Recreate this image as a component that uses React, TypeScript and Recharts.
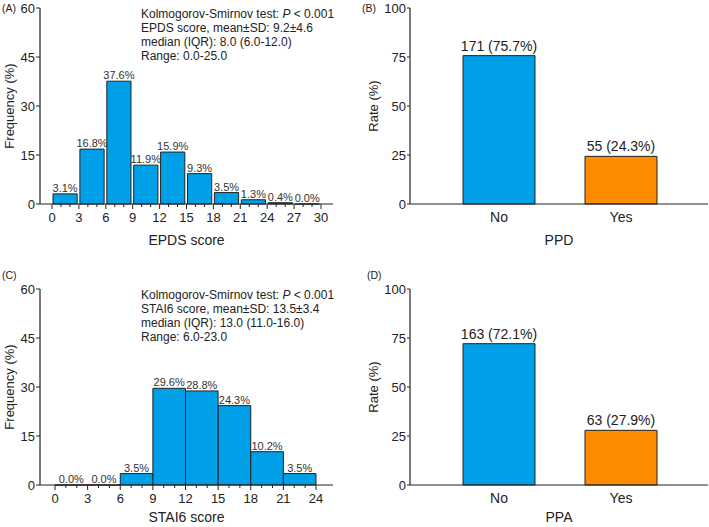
import React from 'react'
import { BarChart, Bar, XAxis, YAxis, LabelList, Cell, Label } from 'recharts'

const FONT = '"Liberation Sans", Arial, Helvetica, sans-serif'
const BLUE = '#00A0E9'
const ORANGE = '#FF8C00'
const INK = '#222222'

// (A) EPDS score histogram, bins of width 3 (bin centres)
const epdsBins = [1.5, 4.5, 7.5, 10.5, 13.5, 16.5, 19.5, 22.5, 25.5, 28.5]
const epdsFreq = [3.1, 16.8, 37.6, 11.9, 15.9, 9.3, 3.5, 1.3, 0.4, 0.0]
const epdsTicks = [0, 1, 2, 3, 4, 5, 6, 7, 8, 9, 10, 11, 12, 13, 14, 15, 16, 17, 18, 19, 20, 21, 22, 23, 24, 25, 26, 27, 28, 29, 30]
const epdsNotes = ['EPDS score, mean±SD: 9.2±4.6', 'median (IQR): 8.0 (6.0-12.0)', 'Range: 0.0-25.0']

// (C) STAI6 score histogram
const staiBins = [1.5, 4.5, 7.5, 10.5, 13.5, 16.5, 19.5, 22.5]
const staiFreq = [0.0, 0.0, 3.5, 29.6, 28.8, 24.3, 10.2, 3.5]
const staiTicks = [0, 1, 2, 3, 4, 5, 6, 7, 8, 9, 10, 11, 12, 13, 14, 15, 16, 17, 18, 19, 20, 21, 22, 23, 24]
const staiNotes = ['STAI6 score, mean±SD: 13.5±3.4', 'median (IQR): 13.0 (11.0-16.0)', 'Range: 6.0-23.0']

const freqTicks = [0, 15, 30, 45, 60]

// (B) / (D) rates
const groups = ['No', 'Yes']
const ppdCount = [171, 55]
const ppdRate = [75.7, 24.3]
const ppaCount = [163, 63]
const ppaRate = [72.1, 27.9]
const rateTicks = [0, 25, 50, 75, 100]
const groupColors = [BLUE, ORANGE]

function ScoreTick({ x, y, payload }: any) {
  const major = payload.value % 3 === 0
  return (
    <g>
      <line x1={x} x2={x} y1={y} y2={y + (major ? 5 : 3)} stroke={INK} strokeWidth={1} />
      {major && (
        <text x={x} y={y + 18} textAnchor="middle" fontSize={13} fill={INK} fontFamily={FONT}>
          {payload.value}
        </text>
      )}
    </g>
  )
}

// label above a bar, drawn on one line (no wrapping to the bar width)
const topLabel = (fmt: (v: any) => string, size: number, gap: number, color: string) => (p: any) => {
  const { x, y, width, value } = p
  return (
    <text x={Number(x) + Number(width) / 2} y={Number(y) - gap} textAnchor="middle" fontSize={size} fill={color} fontFamily={FONT}>
      {fmt(value)}
    </text>
  )
}

type HistProps = {
  top: number
  bins: number[]
  freq: number[]
  ticks: number[]
  max: number
  pad: { left: number; right: number }
  barSize: number
  xTitle: string
  height: number
  xHeight: number
  titleOffset: number
}

function Histogram({ top, bins, freq, ticks, max, pad, barSize, xTitle, height, xHeight, titleOffset }: HistProps) {
  const data = bins.map((b, i) => ({ x: b, v: freq[i] }))
  return (
    <div style={{ position: 'absolute', left: 0, top }}>
      <BarChart width={345} height={height} data={data} margin={{ top: 8, right: 12, bottom: height - 196 - 8 - xHeight, left: 0 }}>
        <XAxis
          type="number"
          dataKey="x"
          domain={[0, max]}
          ticks={ticks}
          interval={0}
          tick={<ScoreTick />}
          tickLine={false}
          tickSize={0}
          tickMargin={0}
          padding={pad}
          height={xHeight}
          axisLine={{ stroke: INK, strokeWidth: 1.2 }}
        >
          <Label value={xTitle} position="insideBottom" offset={titleOffset} fontSize={14} fill={INK} fontFamily={FONT} />
        </XAxis>
        <YAxis
          domain={[0, 60]}
          ticks={freqTicks}
          width={40}
          tickSize={4}
          tickMargin={1}
          tick={{ fontSize: 13, fill: INK, fontFamily: FONT }}
          tickLine={{ stroke: INK }}
          axisLine={{ stroke: INK, strokeWidth: 1.2 }}
        >
          <Label value="Frequency (%)" angle={-90} position="insideLeft" offset={9} fontSize={13} fill={INK} fontFamily={FONT} style={{ textAnchor: 'middle' }} />
        </YAxis>
        <Bar dataKey="v" fill={BLUE} stroke={INK} strokeWidth={1} barSize={barSize} minPointSize={0.01} isAnimationActive={false}>
          <LabelList dataKey="v" content={topLabel((v) => `${Number(v).toFixed(1)}%`, 11, 2, '#333')} />
        </Bar>
      </BarChart>
    </div>
  )
}

type RateProps = {
  top: number
  counts: number[]
  rates: number[]
  xTitle: string
  height: number
  xHeight: number
  titleOffset: number
}

function RateChart({ top, counts, rates, xTitle, height, xHeight, titleOffset }: RateProps) {
  const data = groups.map((g, i) => ({ g, v: rates[i], label: `${counts[i]} (${rates[i].toFixed(1)}%)` }))
  return (
    <div style={{ position: 'absolute', left: 360, top }}>
      <BarChart width={349} height={height} data={data} margin={{ top: 8, right: 1, bottom: height - 196 - 8 - xHeight, left: 0 }}>
        <XAxis
          dataKey="g"
          padding={{ left: 28, right: 26 }}
          tickLine={false}
          tickSize={0}
          tickMargin={8}
          tick={{ fontSize: 14, fill: INK, fontFamily: FONT }}
          height={xHeight}
          axisLine={{ stroke: INK, strokeWidth: 1.2 }}
        >
          <Label value={xTitle} position="insideBottom" offset={titleOffset} fontSize={14} fill={INK} fontFamily={FONT} />
        </XAxis>
        <YAxis
          domain={[0, 100]}
          ticks={rateTicks}
          width={50}
          tickSize={3}
          tickMargin={1}
          tick={{ fontSize: 13, fill: INK, fontFamily: FONT }}
          tickLine={{ stroke: INK }}
          axisLine={{ stroke: INK, strokeWidth: 1.2 }}
        >
          <Label value="Rate (%)" angle={-90} position="insideLeft" offset={13} fontSize={13} fill={INK} fontFamily={FONT} style={{ textAnchor: 'middle' }} />
        </YAxis>
        <Bar dataKey="v" stroke={INK} strokeWidth={1} barSize={72} isAnimationActive={false}>
          {data.map((_, i) => (
            <Cell key={i} fill={groupColors[i % groupColors.length]} />
          ))}
          <LabelList dataKey="label" content={topLabel((v) => String(v), 14, 5, INK)} />
        </Bar>
      </BarChart>
    </div>
  )
}

function Notes({ top, lines }: { top: number; lines: string[] }) {
  return (
    <g fontSize={12} fill={INK} fontFamily={FONT}>
      <text x={141} y={top}>
        Kolmogorov-Smirnov test: <tspan fontStyle="italic">P</tspan> {'< 0.001'}
      </text>
      {lines.map((l, i) => (
        <text key={l} x={141} y={top + 14 * (i + 1)}>
          {l}
        </text>
      ))}
    </g>
  )
}

export default function App() {
  return (
    <div style={{ position: 'absolute', left: 0, top: 0, width: 709, height: 527, overflow: 'hidden', background: '#fff', fontFamily: FONT }}>
      <Histogram top={0} bins={epdsBins} freq={epdsFreq} ticks={epdsTicks} max={30} pad={{ left: 12, right: 12 }} barSize={26.9} xTitle="EPDS score" height={250} xHeight={42} titleOffset={1} />
      <Histogram top={281} bins={staiBins} freq={staiFreq} ticks={staiTicks} max={24} pad={{ left: 15, right: 17 }} barSize={32.6} xTitle="STAI6 score" height={246} xHeight={41} titleOffset={4} />
      <RateChart top={0} counts={ppdCount} rates={ppdRate} xTitle="PPD" height={250} xHeight={42} titleOffset={1} />
      <RateChart top={281} counts={ppaCount} rates={ppaRate} xTitle="PPA" height={246} xHeight={41} titleOffset={4} />
      <svg width={709} height={527} style={{ position: 'absolute', left: 0, top: 0, pointerEvents: 'none' }}>
        <g fontSize={10.5} fill={INK} fontFamily={FONT}>
          <text x={2} y={12}>(A)</text>
          <text x={362} y={12}>(B)</text>
          <text x={2} y={279}>(C)</text>
          <text x={367} y={279}>(D)</text>
        </g>
        <Notes top={17.5} lines={epdsNotes} />
        <Notes top={298.5} lines={staiNotes} />
      </svg>
    </div>
  )
}
